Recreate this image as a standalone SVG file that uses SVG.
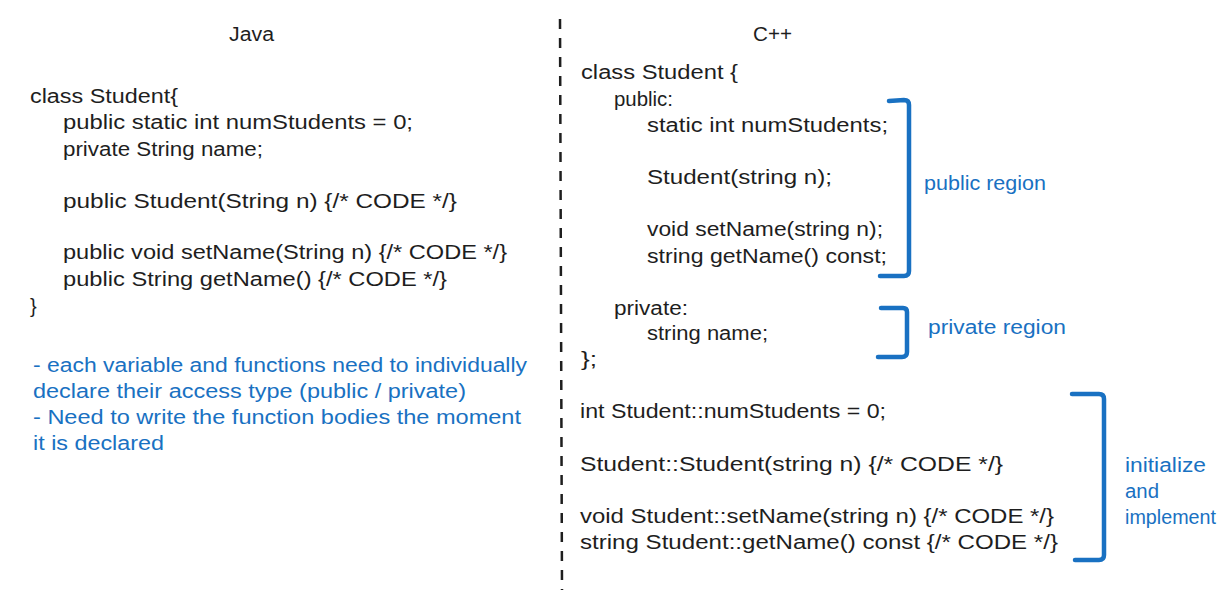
<svg xmlns="http://www.w3.org/2000/svg" width="1224" height="603" viewBox="0 0 1224 603">
  <style>
    .code { font-family: "Liberation Sans", "DejaVu Sans", sans-serif; font-size: 20px; fill: #1e1e1e; }
    .note { font-family: "Liberation Sans", "DejaVu Sans", sans-serif; font-size: 20px; fill: #1971c2; }
    .bracket { fill: none; stroke: #1971c2; stroke-width: 4.5; stroke-linecap: round; stroke-linejoin: round; }
    .divider { fill: none; stroke: #1e1e1e; stroke-width: 2.5; stroke-dasharray: 10 9; }
  </style>
  <rect x="0" y="0" width="1224" height="603" fill="#ffffff"/>

  <g id="connectors">
    <path id="divider" class="divider" d="M560,19 L562,590"/>
    <path id="bracket-public" class="bracket" d="M889,101 L904,100 Q909,100 909,105 L909,271 Q909,276 904,276 L880,276"/>
    <path id="bracket-private" class="bracket" d="M881,308 L903,308 Q907,308 907,312 L907,352 Q907,357 902,357 L878,357"/>
    <path id="bracket-impl" class="bracket" d="M1072,394 L1099,394 Q1104,394 1104,399 L1104,555 Q1104,560 1099,560 L1075,560"/>
  </g>

  <g id="java-title">
    <text class="code" x="229" y="41" textLength="45" lengthAdjust="spacingAndGlyphs">Java</text>
  </g>

  <g id="java-code">
    <text class="code" x="30" y="103" textLength="148" lengthAdjust="spacingAndGlyphs">class Student{</text>
    <text class="code" x="63" y="129" textLength="350" lengthAdjust="spacingAndGlyphs">public static int numStudents = 0;</text>
    <text class="code" x="63" y="156" textLength="200" lengthAdjust="spacingAndGlyphs">private String name;</text>
    <text class="code" x="63" y="208" textLength="394" lengthAdjust="spacingAndGlyphs">public Student(String n) {/* CODE */}</text>
    <text class="code" x="63" y="259" textLength="444" lengthAdjust="spacingAndGlyphs">public void setName(String n) {/* CODE */}</text>
    <text class="code" x="63" y="286" textLength="384" lengthAdjust="spacingAndGlyphs">public String getName() {/* CODE */}</text>
    <text class="code" x="30" y="313">}</text>
  </g>

  <g id="java-notes">
    <text class="note" x="33" y="372" textLength="494" lengthAdjust="spacingAndGlyphs">- each variable and functions need to individually</text>
    <text class="note" x="33" y="398" textLength="433" lengthAdjust="spacingAndGlyphs">declare their access type (public / private)</text>
    <text class="note" x="33" y="424" textLength="488" lengthAdjust="spacingAndGlyphs">- Need to write the function bodies the moment</text>
    <text class="note" x="33" y="450" textLength="131" lengthAdjust="spacingAndGlyphs">it is declared</text>
  </g>

  <g id="cpp-title">
    <text class="code" x="753" y="41" textLength="39" lengthAdjust="spacingAndGlyphs">C++</text>
  </g>

  <g id="cpp-class">
    <text class="code" x="581" y="79" textLength="157" lengthAdjust="spacingAndGlyphs">class Student {</text>
    <text class="code" x="614" y="106" textLength="59" lengthAdjust="spacingAndGlyphs">public:</text>
    <text class="code" x="647" y="132" textLength="241" lengthAdjust="spacingAndGlyphs">static int numStudents;</text>
    <text class="code" x="647" y="184" textLength="185" lengthAdjust="spacingAndGlyphs">Student(string n);</text>
    <text class="code" x="647" y="236" textLength="236" lengthAdjust="spacingAndGlyphs">void setName(string n);</text>
    <text class="code" x="647" y="263" textLength="240" lengthAdjust="spacingAndGlyphs">string getName() const;</text>
    <text class="code" x="614" y="315" textLength="74" lengthAdjust="spacingAndGlyphs">private:</text>
    <text class="code" x="647" y="340" textLength="121" lengthAdjust="spacingAndGlyphs">string name;</text>
    <text class="code" x="581" y="366" textLength="16" lengthAdjust="spacingAndGlyphs">};</text>
  </g>

  <g id="cpp-impl">
    <text class="code" x="580" y="418" textLength="306" lengthAdjust="spacingAndGlyphs">int Student::numStudents = 0;</text>
    <text class="code" x="580" y="471" textLength="423" lengthAdjust="spacingAndGlyphs">Student::Student(string n) {/* CODE */}</text>
    <text class="code" x="580" y="523" textLength="474" lengthAdjust="spacingAndGlyphs">void Student::setName(string n) {/* CODE */}</text>
    <text class="code" x="580" y="549" textLength="478" lengthAdjust="spacingAndGlyphs">string Student::getName() const {/* CODE */}</text>
  </g>

  <g id="label-public">
    <text class="note" x="924" y="190" textLength="122" lengthAdjust="spacingAndGlyphs">public region</text>
  </g>
  <g id="label-private">
    <text class="note" x="928" y="334" textLength="138" lengthAdjust="spacingAndGlyphs">private region</text>
  </g>
  <g id="label-impl">
    <text class="note" x="1125" y="472" textLength="81" lengthAdjust="spacingAndGlyphs">initialize</text>
    <text class="note" x="1125" y="498" textLength="34" lengthAdjust="spacingAndGlyphs">and</text>
    <text class="note" x="1125" y="524" textLength="91" lengthAdjust="spacingAndGlyphs">implement</text>
  </g>
</svg>
